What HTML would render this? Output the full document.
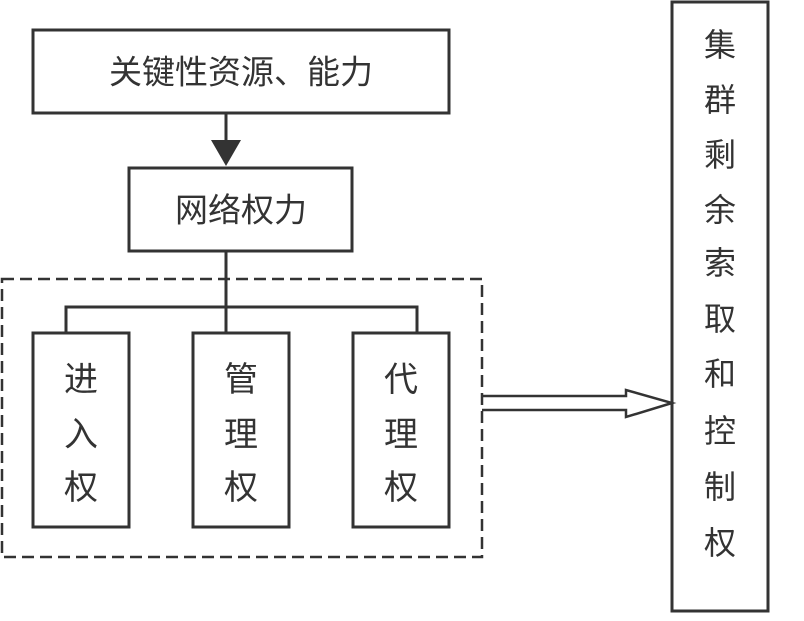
<!DOCTYPE html>
<html><head><meta charset="utf-8"><style>
body{margin:0;width:804px;height:616px;background:#fff;overflow:hidden}
svg text{font-family:"Liberation Sans","Noto Sans CJK SC",sans-serif;fill:#333;text-anchor:middle;dominant-baseline:central}
</style></head><body>
<svg width="804" height="616" viewBox="0 0 804 616" xmlns="http://www.w3.org/2000/svg">
<g fill="none" stroke="#333" stroke-width="3">
<rect x="33" y="30" width="416" height="83"/>
<rect x="129" y="168" width="223" height="83"/>
<line x1="226" y1="113" x2="226" y2="142"/>
<line x1="226" y1="251" x2="226" y2="333"/>
<polyline points="66,333 66,307 417,307 417,333"/>
<rect x="2" y="279" width="480" height="278" stroke-dasharray="12,6" stroke-width="2.5"/>
<rect x="33" y="333" width="96" height="194"/>
<rect x="193" y="333" width="96" height="194"/>
<rect x="353" y="333" width="96" height="194"/>
<rect x="672" y="2" width="96" height="609"/>
<polyline points="482,396 626,396 626,390 672,403 626,417 626,410 482,410" stroke-width="2.5"/>
</g>
<polygon points="211,140 241,140 226,166" fill="#333"/>
<g font-size="33">
<text x="241" y="72">关键性资源、能力</text>
<text x="241" y="210">网络权力</text>
</g>
<g font-size="34">
<text x="81" y="380">进</text><text x="81" y="435">入</text><text x="81" y="488">权</text>
<text x="241" y="380">管</text><text x="241" y="435">理</text><text x="241" y="488">权</text>
<text x="401" y="380">代</text><text x="401" y="435">理</text><text x="401" y="488">权</text>
</g>
<g font-size="32">
<text x="720" y="45">集</text><text x="720" y="100">群</text><text x="720" y="155">剩</text>
<text x="720" y="210">余</text><text x="720" y="263">索</text><text x="720" y="319">取</text>
<text x="720" y="374">和</text><text x="720" y="431">控</text><text x="720" y="487">制</text>
<text x="720" y="543">权</text>
</g>
</svg>
</body></html>
